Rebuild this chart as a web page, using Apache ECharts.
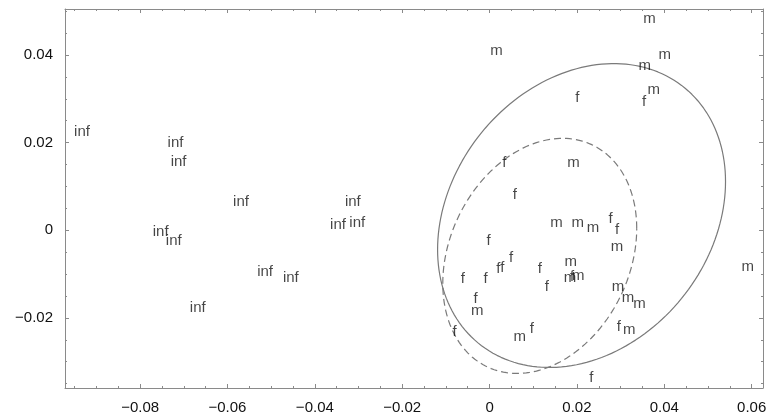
<!DOCTYPE html>
<html>
<head>
<meta charset="utf-8">
<script src="https://cdn.jsdelivr.net/npm/echarts@6/dist/echarts.min.js"></script>
<style>
html,body{margin:0;padding:0;background:#fff;}
#chart{width:768px;height:416px;}
</style>
</head>
<body>
<div id="chart"></div>
<script>
// ---- data ----
const infPoints = [
  [-0.0933, 0.0225], [-0.0719, 0.0199], [-0.0712, 0.0156], [-0.0569, 0.0065],
  [-0.0313, 0.0065], [-0.0347, 0.0012], [-0.0303, 0.0017], [-0.0753, -0.0003],
  [-0.0723, -0.0025], [-0.0514, -0.0094], [-0.0455, -0.0109], [-0.0668, -0.0178]
];
const fPoints = [
  [0.0034, 0.0153], [0.0058, 0.0080], [0.0201, 0.0303], [0.0354, 0.0293],
  [0.0277, 0.0027], [0.0292, 0.0002], [-0.0002, -0.0025], [0.0049, -0.0063],
  [0.0020, -0.0087], [0.0029, -0.0086], [0.0115, -0.0087], [0.0189, -0.0107],
  [0.0131, -0.0129], [-0.0061, -0.0112], [-0.0009, -0.0112], [-0.0032, -0.0156],
  [-0.0080, -0.0233], [0.0097, -0.0226], [0.0296, -0.0220], [0.0233, -0.0337]
];
const mPoints = [
  [0.0366, 0.0482], [0.0016, 0.0409], [0.0401, 0.0400], [0.0355, 0.0375],
  [0.0376, 0.0320], [0.0192, 0.0154], [0.0153, 0.0016], [0.0202, 0.0017],
  [0.0237, 0.0006], [0.0292, -0.0039], [0.0186, -0.0072], [0.0184, -0.0108],
  [0.0203, -0.0105], [0.0591, -0.0083], [0.0294, -0.0129], [0.0317, -0.0154],
  [0.0343, -0.0167], [-0.0028, -0.0185], [0.0069, -0.0243], [0.0320, -0.0228]
];
// ellipse outlines:
// [centerX, centerY, half-width in x, y-offset at x-extreme, remaining y half-axis]
const solidEllipse = [0.02106, 0.00336, 0.03296, 0.00776, 0.0338];
const dashedEllipse = [0.01149, -0.00585, 0.0222, 0.00628, 0.02608];

const xMajorTicks = [-0.08, -0.06, -0.04, -0.02, 0, 0.02, 0.04, 0.06];
const yMajorTicks = [-0.02, 0, 0.02, 0.04];
const xMinorTicks = [-0.095, -0.09, -0.085, -0.075, -0.07, -0.065, -0.055, -0.05, -0.045,
  -0.035, -0.03, -0.025, -0.015, -0.01, -0.005, 0.005, 0.01, 0.015, 0.025, 0.03, 0.035,
  0.045, 0.05, 0.055];
const yMinorTicks = [-0.035, -0.03, -0.025, -0.015, -0.01, -0.005, 0.005, 0.01, 0.015,
  0.025, 0.03, 0.035, 0.045, 0.05];

const X_MIN = -0.0972, X_MAX = 0.0626, Y_MIN = -0.036, Y_MAX = 0.0505;
const FRAME = '#8a8a8a';
const FONT = '"Liberation Sans", Arial, sans-serif';

function fmt(v) {
  const r = Math.round(v * 1000) / 1000;
  if (r === 0) return '0';
  return String(r).replace('-', '\u2212');
}
function makeAxis(position, major, labels, tickVals, tickLen, showLine) {
  const isX = position === 'bottom' || position === 'top';
  return {
    type: 'value', position: position,
    min: isX ? X_MIN : Y_MIN, max: isX ? X_MAX : Y_MAX,
    splitLine: {show: false},
    axisLine: {show: showLine, onZero: false, lineStyle: {color: FRAME, width: 1}},
    axisTick: {show: true, inside: true, length: tickLen, customValues: tickVals,
      lineStyle: {color: FRAME, width: 1}},
    axisLabel: labels ? {show: true, customValues: major, formatter: fmt, margin: 12,
      color: '#111', fontSize: 15, fontFamily: FONT} : {show: false},
    gridIndex: 0
  };
}
// outline of an ellipse from its read parameters
function outline(p) {
  const pts = [];
  for (let i = 0; i <= 180; i++) {
    const t = i / 180 * 2 * Math.PI;
    pts.push([p[0] + p[2] * Math.cos(t), p[1] + p[3] * Math.cos(t) + p[4] * Math.sin(t)]);
  }
  return pts;
}
function textSeries(name, pts) {
  return {
    type: 'scatter', name: name, data: pts, xAxisIndex: 0, yAxisIndex: 0,
    symbol: 'circle', symbolSize: 1, itemStyle: {color: 'rgba(0,0,0,0)'},
    label: {show: true, position: 'inside', formatter: name, color: '#161616',
      fontSize: 15, fontFamily: FONT, align: 'center', verticalAlign: 'middle'},
    emphasis: {disabled: true}, z: 5
  };
}

const chart = echarts.init(document.getElementById('chart'), null, {renderer: 'canvas'});
chart.setOption({
  animation: false,
  backgroundColor: '#fff',
  grid: {left: 65, top: 9, right: 5, bottom: 28, containLabel: false, outerBoundsMode: 'none'},
  xAxis: [
    makeAxis('bottom', xMajorTicks, true, xMajorTicks, 4, true),
    makeAxis('bottom', null, false, xMinorTicks, 2, false),
    makeAxis('top', null, false, xMajorTicks, 4, true),
    makeAxis('top', null, false, xMinorTicks, 2, false)
  ],
  yAxis: [
    makeAxis('left', yMajorTicks, true, yMajorTicks, 4, true),
    makeAxis('left', null, false, yMinorTicks, 2, false),
    makeAxis('right', null, false, yMajorTicks, 4, true),
    makeAxis('right', null, false, yMinorTicks, 2, false)
  ],
  series: [
    {type: 'line', data: outline(solidEllipse), showSymbol: false, symbol: 'none',
      lineStyle: {color: '#7a7a7a', width: 1.2}, emphasis: {disabled: true}, z: 2},
    {type: 'line', data: outline(dashedEllipse), showSymbol: false, symbol: 'none',
      lineStyle: {color: '#7a7a7a', width: 1.2, type: [7, 4]}, emphasis: {disabled: true}, z: 2},
    textSeries('inf', infPoints),
    textSeries('f', fPoints),
    textSeries('m', mPoints)
  ]
});
</script>
</body>
</html>
